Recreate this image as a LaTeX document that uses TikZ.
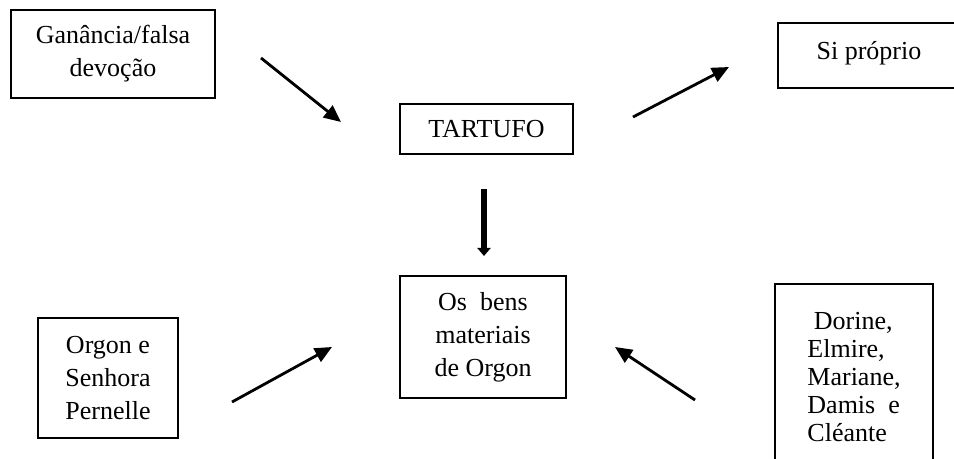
\documentclass[tikz,border=0pt]{standalone}
\usepackage{fontspec}
\setmainfont{Liberation Serif}
\usetikzlibrary{arrows.meta}
\begin{document}
\begin{tikzpicture}[x=0.5pt,y=-0.5pt,
  box/.style={draw, line width=0.6pt, inner sep=0pt, align=center,
              font=\fontsize{13}{16.5}\selectfont},
  link/.style={line width=1.4pt, -{Triangle[length=8.5pt,width=7.5pt]}},
  bigdown/.style={line width=3pt, -{Triangle[length=4pt,width=6.5pt]}}]
\useasboundingbox (0,0) rectangle (954,459);

% boxes
\node[box, minimum width=102pt, minimum height=44pt] (greed) at (113,54)
  {Ganância/falsa\\devoção};
\node[box, minimum width=86.5pt, minimum height=25pt] (tart) at (486.5,129)
  {TARTUFO};
\node[box, minimum width=91pt, minimum height=32.5pt] (self) at (869,55.5)
  {\raisebox{5.5pt}{Si próprio}};
\node[box, minimum width=83pt, minimum height=61pt] (goods) at (483,337)
  {Os\ \ bens\\materiais\\de Orgon};
\node[box, minimum width=70pt, minimum height=60pt] (orgon) at (108,378)
  {Orgon e\\Senhora\\Pernelle};
\node[box, align=left, font=\fontsize{13}{14}\selectfont,
      minimum width=79pt, minimum height=93pt] (others) at (854,377)
  {\ Dorine,\\Elmire,\\Mariane,\\Damis\ \ e\\Cléante};

% arrow end points
\coordinate (g-out) at (261,58);
\coordinate (t-in)  at (341,122);
\coordinate (t-out) at (633,117);
\coordinate (s-in)  at (729,67);
\coordinate (d-top) at (484,189);
\coordinate (d-bot) at (484,256);
\coordinate (o-out) at (232,402);
\coordinate (o-in)  at (332,347);
\coordinate (r-out) at (695,400);
\coordinate (r-in)  at (615,347);

% connectors
\draw[link] (g-out) -- (t-in);
\draw[link] (t-out) -- (s-in);
\draw[bigdown] (d-top) -- (d-bot);
\draw[link] (o-out) -- (o-in);
\draw[link] (r-out) -- (r-in);
\end{tikzpicture}
\end{document}
